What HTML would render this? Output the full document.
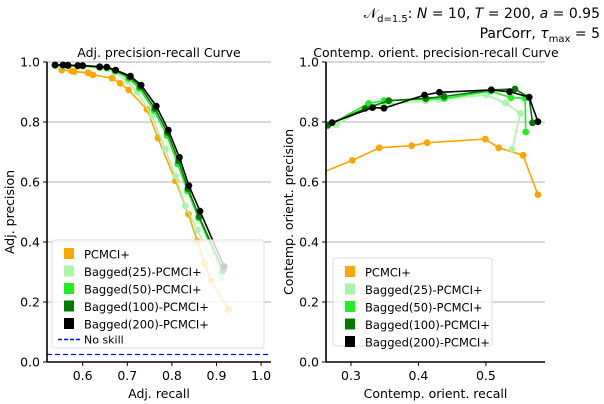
<!DOCTYPE html>
<html><head><meta charset="utf-8"><style>
body{margin:0;background:#fff;}
svg{display:block;font-family:"DejaVu Sans","Liberation Sans",sans-serif;}
</style></head><body>
<svg id="chart" width="604" height="404" viewBox="0 0 604 404">
<text x="600" y="18" text-anchor="end" font-size="14" font-style="normal">𝒩<tspan font-size="10" dy="4">d=1.5</tspan><tspan dy="-4">: </tspan><tspan font-style="italic">N</tspan> = 10, <tspan font-style="italic">T</tspan> = 200, <tspan font-style="italic">a</tspan> = 0.95</text>
<text x="600" y="38" text-anchor="end" font-size="14">ParCorr, <tspan font-style="italic">τ</tspan><tspan font-size="10" dy="4">max</tspan><tspan dy="-4"> = 5</tspan></text>
<text x="159" y="57" text-anchor="middle" font-size="12.5">Adj. precision-recall Curve</text>
<text x="436" y="57" text-anchor="middle" font-size="12.5">Contemp. orient. precision-recall Curve</text>
<g id="left"></g><g id="right"></g>
</svg>
<script>
const seriesNames=["PCMCI+","Bagged(25)-PCMCI+","Bagged(50)-PCMCI+","Bagged(100)-PCMCI+","Bagged(200)-PCMCI+"];
const colors=["#ffa500","#aaf5aa","#22ee22","#007a00","#000000"];
const yTicks=[0.0,0.2,0.4,0.6,0.8,1.0];
const leftXTicks=[0.6,0.7,0.8,0.9,1.0];
const rightXTicks=[0.3,0.4,0.5];
const noSkill=0.025;
const leftX=[
[0.553,0.575,0.581,0.612,0.623,0.666,0.684,0.703,0.744,0.769,0.808,0.837,0.857,0.873,0.888,0.927],
[0.540,0.556,0.568,0.590,0.601,0.639,0.655,0.672,0.700,0.722,0.755,0.785,0.808,0.830,0.857,0.911],
[0.538,0.556,0.567,0.589,0.600,0.638,0.654,0.673,0.703,0.727,0.760,0.789,0.813,0.835,0.860,0.913],
[0.538,0.556,0.567,0.589,0.600,0.638,0.654,0.673,0.705,0.729,0.762,0.790,0.815,0.836,0.861,0.915],
[0.538,0.556,0.567,0.589,0.600,0.638,0.654,0.674,0.707,0.731,0.765,0.792,0.817,0.838,0.863,0.917]];
const leftY=[
[0.973,0.970,0.968,0.964,0.957,0.946,0.929,0.907,0.842,0.746,0.604,0.493,0.403,0.330,0.270,0.175],
[0.988,0.988,0.987,0.985,0.985,0.980,0.977,0.965,0.935,0.900,0.820,0.710,0.620,0.520,0.440,0.277],
[0.989,0.989,0.988,0.987,0.987,0.983,0.981,0.970,0.945,0.912,0.838,0.755,0.660,0.570,0.480,0.300],
[0.990,0.990,0.989,0.988,0.988,0.984,0.982,0.972,0.950,0.918,0.845,0.765,0.670,0.578,0.485,0.305],
[0.990,0.990,0.989,0.988,0.988,0.984,0.983,0.973,0.953,0.923,0.853,0.773,0.682,0.588,0.503,0.318]];
const rightX=[
[0.250,0.302,0.342,0.390,0.413,0.499,0.519,0.555,0.577],
[0.278,0.325,0.360,0.410,0.430,0.501,0.529,0.551,0.539],
[0.265,0.326,0.349,0.411,0.438,0.507,0.537,0.558,0.559],
[0.266,0.321,0.356,0.411,0.438,0.508,0.543,0.564,0.569],
[0.272,0.332,0.349,0.409,0.431,0.508,0.535,0.564,0.577]];
const rightY=[
[0.625,0.672,0.714,0.721,0.731,0.743,0.714,0.689,0.558],
[0.790,0.850,0.860,0.870,0.875,0.890,0.863,0.829,0.710],
[0.787,0.862,0.871,0.876,0.878,0.903,0.881,0.879,0.767],
[0.790,0.845,0.871,0.879,0.885,0.907,0.910,0.882,0.797],
[0.798,0.848,0.846,0.890,0.899,0.907,0.901,0.883,0.801]];
const NS="http://www.w3.org/2000/svg";
function el(parent,tag,attrs,text){const e=document.createElementNS(NS,tag);for(const k in attrs)e.setAttribute(k,attrs[k]);if(text!==undefined)e.textContent=text;parent.appendChild(e);return e;}
function panel(g,L,R,T,B,xmin,xmax,xs,ys,xticks,fmt,xlabel,ylabel,prefix){
  const sx=v=>L+(v-xmin)/(xmax-xmin)*(R-L), sy=v=>B-(v-0)/(1-0)*(B-T);
  const clipId=prefix+"-clip";
  const defs=el(g,"defs",{});const cp=el(defs,"clipPath",{id:clipId});el(cp,"rect",{x:L,y:T-6,width:R-L+6,height:B-T+6});
  yTicks.forEach(t=>{
    const gl=el(g,"line",{x1:L,x2:R,y1:sy(t),y2:sy(t),stroke:"#b0b0b0","stroke-width":1});
    
    el(g,"line",{x1:L-4,x2:L,y1:sy(t),y2:sy(t),stroke:"#000"});
    const tl=el(g,"text",{x:L-7,y:sy(t)+4.5,"text-anchor":"end","font-size":12.5},t.toFixed(1));
    
  });
  xticks.forEach(t=>{
    el(g,"line",{x1:sx(t),x2:sx(t),y1:B,y2:B+4,stroke:"#000"});
    const tl=el(g,"text",{x:sx(t),y:B+18,"text-anchor":"middle","font-size":12.5},t.toFixed(1));
    
  });
  const data=el(g,"g",{"clip-path":"url(#"+clipId+")"});
  xs.forEach((arr,i)=>{
    const sg=el(data,"g",{});
    
    el(sg,"polyline",{points:arr.map((x,j)=>sx(x)+","+sy(ys[i][j])).join(" "),fill:"none",stroke:colors[i],"stroke-width":1.6});
    arr.forEach((x,j)=>{const c=el(sg,"circle",{cx:sx(x),cy:sy(ys[i][j]),r:3.4,fill:colors[i]});
      });
  });
  el(g,"line",{x1:L,x2:L,y1:T,y2:B+0.5,stroke:"#000","stroke-width":1.6});
  el(g,"line",{x1:L,x2:R,y1:B,y2:B,stroke:"#000","stroke-width":1.6});
  const xl=el(g,"text",{x:(L+R)/2,y:B+36,"text-anchor":"middle","font-size":12.5},xlabel);
  
  const yl=el(g,"text",{x:0,y:0,"text-anchor":"middle","font-size":12.5,transform:"translate("+(L-33)+","+((T+B)/2)+") rotate(-90)"},ylabel);
  
  return {sx,sy,data};
}
function legend(g,x,y,w,h,withNoSkill,prefix){
  const box=el(g,"rect",{x:x,y:y,width:w,height:h,fill:"#fff","fill-opacity":0.8,stroke:"#ddd",rx:3});
  
  seriesNames.forEach((n,i)=>{
    const yy=y+14+i*17.5;
    const s=el(g,"rect",{x:x+12,y:yy-6,width:10,height:11,fill:colors[i]});
    const t=el(g,"text",{x:x+32,y:yy+4.5,"font-size":11.5},n);
    
  });
  if(withNoSkill){const yy=y+14+5*17.5-2;
    el(g,"line",{x1:x+6,x2:x+30,y1:yy,y2:yy,stroke:"#0000ff","stroke-width":1.5,"stroke-dasharray":"4,2"});
    const t=el(g,"text",{x:x+32,y:yy+4,"font-size":11},"No skill");
    }
}
const lg=document.getElementById("left");
const lp=panel(lg,47,271,62,362,0.52,1.0222,leftX,leftY,leftXTicks,null,"Adj. recall","Adj. precision","left");
const ns=el(lp.data,"line",{x1:47,x2:271,y1:lp.sy(noSkill),y2:lp.sy(noSkill),stroke:"#0000ff","stroke-width":1.3,"stroke-dasharray":"5,3"});

legend(lg,52,240,212,108,true,"left");
const rg=document.getElementById("right");
panel(rg,326,545,62,362,0.263,0.5875,rightX,rightY,rightXTicks,null,"Contemp. orient. recall","Contemp. orient. precision","right");
legend(rg,333,258,159,88,false,"right");
</script>
</body></html>
